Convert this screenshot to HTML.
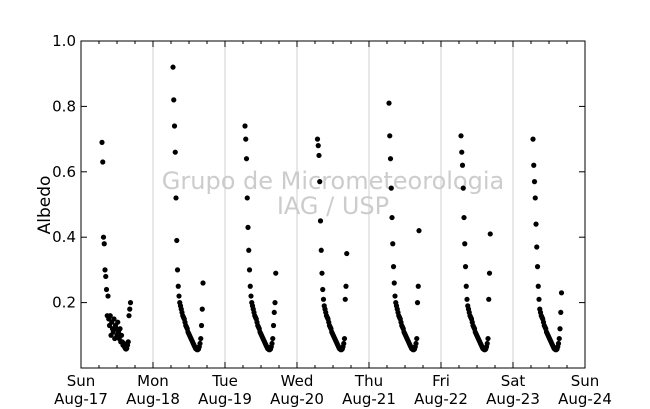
<!DOCTYPE html>
<html><head><meta charset="utf-8"><style>
body{margin:0;background:#fff;}
svg{display:block;font-family:"DejaVu Sans","Liberation Sans",sans-serif;}
</style></head><body>
<svg id="chart" width="650" height="409">
<rect width="650" height="409" fill="#fff"/>
<g id="grid"></g>
<text x="333" y="189" font-size="24" fill="#cccccc" text-anchor="middle">Grupo de Micrometeorologia</text>
<text x="333" y="214" font-size="24" fill="#cccccc" text-anchor="middle">IAG / USP</text>
<g id="dots"></g>
<g id="axes"></g>
<text transform="translate(50,205) rotate(-90)" font-size="17" text-anchor="middle">Albedo</text>
</svg>
<script>
const dayLabels=["Sun","Mon","Tue","Wed","Thu","Fri","Sat","Sun"];
const dateLabels=["Aug-17","Aug-18","Aug-19","Aug-20","Aug-21","Aug-22","Aug-23","Aug-24"];
const yTicks=[0.2,0.4,0.6,0.8,1.0];
const stepMinutes=15;
const dayStartHours=[7.0,6.67,6.67,6.83,6.67,6.67,6.67];
const sunVals=[0.69,0.63,0.40,0.38,0.30,0.28,0.24,0.16,0.22,0.15,0.13,0.16,0.10,0.14,0.12,0.11,0.15,0.09,0.13,0.12,0.10,0.14,0.11,0.09,0.12,0.08,0.10,0.08,0.07,0.075,0.065,0.06,0.058,0.06,0.07,0.08,0.16,0.18,0.20];
const monVals=[0.92,0.82,0.74,0.66,0.52,0.39,0.30,0.25,0.22,0.20,0.19,0.18,0.17,0.16,0.155,0.15,0.14,0.13,0.125,0.12,0.11,0.105,0.10,0.095,0.09,0.085,0.08,0.075,0.07,0.065,0.06,0.058,0.056,0.056,0.058,0.065,0.075,0.09,0.13,0.18,0.26];
const tueVals=[0.74,0.70,0.64,0.52,0.43,0.36,0.30,0.25,0.22,0.20,0.19,0.18,0.17,0.16,0.155,0.15,0.14,0.13,0.125,0.12,0.11,0.105,0.10,0.095,0.09,0.085,0.08,0.075,0.07,0.065,0.06,0.058,0.056,0.056,0.058,0.065,0.075,0.09,0.13,0.17,0.20,0.29];
const wedVals=[0.70,0.68,0.65,0.57,0.45,0.36,0.29,0.24,0.21,0.19,0.18,0.17,0.16,0.155,0.15,0.14,0.13,0.125,0.12,0.11,0.105,0.10,0.095,0.09,0.085,0.08,0.075,0.07,0.065,0.06,0.058,0.056,0.056,0.058,0.065,0.075,0.09,0.21,0.25,0.35];
const thuVals=[0.81,0.71,0.64,0.55,0.46,0.38,0.31,0.26,0.22,0.20,0.19,0.18,0.17,0.16,0.155,0.15,0.14,0.13,0.125,0.12,0.11,0.105,0.10,0.095,0.09,0.085,0.08,0.075,0.07,0.065,0.06,0.058,0.056,0.056,0.058,0.065,0.075,0.09,0.20,0.25,0.42];
const friVals=[0.71,0.66,0.62,0.55,0.46,0.38,0.31,0.25,0.21,0.19,0.18,0.17,0.16,0.155,0.15,0.14,0.13,0.125,0.12,0.11,0.105,0.10,0.095,0.09,0.085,0.08,0.075,0.07,0.065,0.06,0.058,0.056,0.056,0.058,0.065,0.075,0.09,0.21,0.29,0.41];
const satVals=[0.70,0.62,0.57,0.52,0.44,0.37,0.31,0.25,0.21,0.18,0.17,0.16,0.155,0.15,0.14,0.13,0.125,0.12,0.11,0.105,0.10,0.095,0.09,0.085,0.08,0.075,0.07,0.065,0.06,0.058,0.056,0.056,0.058,0.065,0.075,0.09,0.12,0.17,0.23];
const allDays=[sunVals,monVals,tueVals,wedVals,thuVals,friVals,satVals];

const L=81,R=585,T=41,B=368,NS="http://www.w3.org/2000/svg";
const xs=d=>L+(R-L)*d/7;
const ys=v=>B-(B-T)*v/1.0;
function mk(tag,parent,attrs){const e=document.createElementNS(NS,tag);for(const k in attrs)e.setAttribute(k,attrs[k]);parent.appendChild(e);return e;}
const grid=document.getElementById('grid'),axes=document.getElementById('axes'),dots=document.getElementById('dots');
for(let d=1;d<7;d++){
  const l=mk('line',grid,{x1:xs(d),x2:xs(d),y1:T,y2:B,stroke:'#cfcfcf','stroke-width':1});
  
  
}
allDays.forEach((vals,d)=>{
  vals.forEach((v,i)=>{
    const t=d+(dayStartHours[d]+i*stepMinutes/60)/24;
    const c=mk('circle',dots,{cx:xs(t),cy:ys(v),r:2.6,fill:'#000'});
    
    
  });
});
const frame=mk('rect',axes,{x:L,y:T,width:R-L,height:B-T,fill:'none',stroke:'#000','stroke-width':1});


for(let q=1;q<28;q++){
  const x=xs(q/4),len=(q%4===0)?6:3;
  mk('line',axes,{x1:x,x2:x,y1:B,y2:B-len,stroke:'#000'});
  mk('line',axes,{x1:x,x2:x,y1:T,y2:T+len,stroke:'#000'});
}
yTicks.forEach(v=>{
  mk('line',axes,{x1:L,x2:L+6,y1:ys(v),y2:ys(v),stroke:'#000'});
  mk('line',axes,{x1:R,x2:R-6,y1:ys(v),y2:ys(v),stroke:'#000'});
  const t=mk('text',axes,{x:L-5,y:ys(v)+5,'font-size':15,'text-anchor':'end'});
  t.textContent=v.toFixed(1);
  
  
});
dayLabels.forEach((lab,d)=>{
  const t1=mk('text',axes,{x:xs(d),y:386,'font-size':15,'text-anchor':'middle'});
  t1.textContent=lab;
  
  
  const t2=mk('text',axes,{x:xs(d),y:404,'font-size':15,'text-anchor':'middle'});
  t2.textContent=dateLabels[d];
  
  
});
</script>
</body></html>
